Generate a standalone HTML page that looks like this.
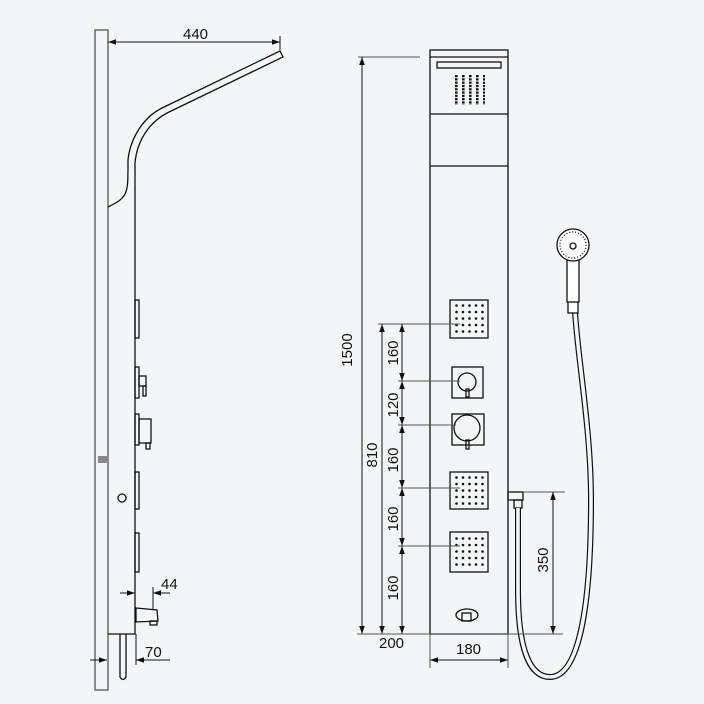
<!DOCTYPE html>
<html><head><meta charset="utf-8"><style>
html,body{margin:0;padding:0;background:#f4f5f7;}
svg{display:block;}
text{font-family:"Liberation Sans",sans-serif;font-size:15px;fill:#111;}
</style></head><body>
<svg width="704" height="704" viewBox="0 0 704 704" xmlns="http://www.w3.org/2000/svg">
<defs>
<marker id="a" viewBox="0 0 10 10" refX="10" refY="5" markerWidth="8" markerHeight="8" orient="auto-start-reverse"><path d="M0,1.5 L10,5 L0,8.5z" fill="#111"/></marker>
<pattern id="dots" x="455" y="304" width="6.5" height="6.5" patternUnits="userSpaceOnUse"><circle cx="1.5" cy="1.5" r="1.3" fill="#111"/></pattern>
<pattern id="dots2" x="455" y="476" width="6.5" height="6.5" patternUnits="userSpaceOnUse"><circle cx="1.5" cy="1.5" r="1.3" fill="#111"/></pattern>
<pattern id="dots3" x="455" y="537" width="6.5" height="6.5" patternUnits="userSpaceOnUse"><circle cx="1.5" cy="1.5" r="1.3" fill="#111"/></pattern>
<pattern id="tdots" x="455" y="75" width="7" height="3.3" patternUnits="userSpaceOnUse"><rect x="0" y="0" width="2.6" height="2.2" fill="#111"/></pattern>
</defs>
<rect width="704" height="704" fill="#f4f5f7"/>
<g fill="none" stroke="#111" stroke-width="1.3">
<!-- LEFT VIEW -->
<rect x="95" y="30" width="13" height="660" stroke="#555"/>
<path d="M108,207 C116,203 122,200 125,194 C128,188 128,182 128,160 C130,140 142,118 162,108 L280,51 L283,57 L167,113 C150,122 137,140 135,163 L135,634 L108,634"/>
<path d="M120,634 L120,677 Q123,682 126,677 L126,634"/>
<rect x="135" y="300" width="4" height="38"/>
<rect x="135" y="367" width="4" height="31"/>
<rect x="139" y="376" width="7" height="10"/>
<rect x="143" y="386" width="3" height="10"/>
<rect x="135" y="414" width="4" height="31"/>
<rect x="139" y="419" width="12" height="24"/>
<rect x="146" y="443" width="4" height="6"/>
<rect x="135" y="472" width="4" height="37"/>
<rect x="135" y="533" width="4" height="39"/>
<circle cx="122" cy="498" r="4"/>
<path d="M136,608 L157,610 L158,621 L136,622z"/>
<rect x="150" y="621" width="7" height="4"/>
</g>
<rect x="98" y="456" width="9" height="7" fill="#888"/>
<g stroke="#111" stroke-width="1" fill="none">
<line x1="108" y1="42" x2="280" y2="42" marker-start="url(#a)" marker-end="url(#a)"/>
<line x1="280" y1="36" x2="280" y2="50"/>
<line x1="120" y1="593" x2="135" y2="593" marker-end="url(#a)"/>
<line x1="170" y1="593" x2="153" y2="593" marker-end="url(#a)"/>
<line x1="153" y1="587" x2="153" y2="610"/>
<line x1="90" y1="660" x2="107" y2="660" marker-end="url(#a)"/>
<line x1="170" y1="660" x2="136" y2="660" marker-end="url(#a)"/>
<line x1="136" y1="634" x2="136" y2="665"/>
</g>
<text x="183" y="39">440</text>
<text x="161" y="589">44</text>
<text x="145" y="657">70</text>

<!-- FRONT VIEW -->
<g fill="none" stroke="#111" stroke-width="1.3">
<rect x="430" y="50" width="78" height="584"/>
<line x1="430" y1="57" x2="508" y2="57"/>
<line x1="430" y1="114" x2="508" y2="114"/>
<line x1="430" y1="166" x2="508" y2="166"/>
<rect x="437" y="62" width="64" height="6"/>
<rect x="450" y="300" width="38" height="38"/>
<rect x="452" y="367" width="31" height="31"/>
<circle cx="467" cy="382" r="9"/>
<rect x="466" y="389" width="3" height="8"/>
<rect x="452" y="414" width="32" height="31"/>
<circle cx="467" cy="428" r="13"/>
<rect x="466" y="440" width="3" height="9"/>
<rect x="450" y="472" width="38" height="37"/>
<rect x="450" y="532" width="38" height="40"/>
<ellipse cx="467" cy="615" rx="11" ry="6"/>
<rect x="462" y="613" width="9" height="8"/>
<rect x="508" y="492" width="15" height="8"/>
<rect x="514" y="500" width="8" height="8"/>
</g>
<rect x="455" y="75" width="30" height="30" fill="url(#tdots)"/>
<rect x="455" y="304" width="32" height="32" fill="url(#dots)"/>
<rect x="455" y="476" width="32" height="32" fill="url(#dots2)"/>
<rect x="455" y="537" width="32" height="32" fill="url(#dots3)"/>
<!-- hose -->
<path d="M518,508 L518,590 C518,650 530,677 550,677 C576,677 591,620 591,500 C591,430 578,360 575,312" fill="none" stroke="#111" stroke-width="6"/>
<path d="M518,508 L518,590 C518,650 530,677 550,677 C576,677 591,620 591,500 C591,430 578,360 575,312" fill="none" stroke="#f4f5f7" stroke-width="3.6"/>
<!-- shower head -->
<g fill="#fff" stroke="#111" stroke-width="1.3">
<rect x="568" y="301" width="10" height="12"/>
<rect x="567" y="258" width="12" height="44"/>
<circle cx="573" cy="245" r="16"/>
<circle cx="573" cy="245" r="13" stroke-dasharray="1 2"/>
<circle cx="573" cy="246" r="3"/>
</g>
<!-- front dims -->
<g stroke="#111" stroke-width="1" fill="none">
<line x1="358" y1="57" x2="420" y2="57" stroke="#555"/>
<line x1="362" y1="57" x2="362" y2="634" marker-start="url(#a)" marker-end="url(#a)"/>
<line x1="378" y1="324" x2="460" y2="324" stroke="#555"/>
<line x1="382" y1="324" x2="382" y2="634" marker-start="url(#a)" marker-end="url(#a)"/>
<line x1="402" y1="324" x2="402" y2="381" marker-start="url(#a)" marker-end="url(#a)"/>
<line x1="402" y1="381" x2="402" y2="425" marker-start="url(#a)" marker-end="url(#a)"/>
<line x1="402" y1="425" x2="402" y2="488" marker-start="url(#a)" marker-end="url(#a)"/>
<line x1="402" y1="488" x2="402" y2="546" marker-start="url(#a)" marker-end="url(#a)"/>
<line x1="402" y1="546" x2="402" y2="634" marker-start="url(#a)" marker-end="url(#a)"/>
<line x1="398" y1="381" x2="460" y2="381" stroke="#555"/>
<line x1="398" y1="425" x2="456" y2="425" stroke="#555"/>
<line x1="398" y1="488" x2="460" y2="488" stroke="#555"/>
<line x1="398" y1="546" x2="460" y2="546" stroke="#555"/>
<line x1="357" y1="634" x2="563" y2="634" stroke="#555"/>
<line x1="430" y1="634" x2="430" y2="668" stroke="#555"/>
<line x1="508" y1="634" x2="508" y2="668" stroke="#555"/>
<line x1="430" y1="660" x2="508" y2="660" marker-start="url(#a)" marker-end="url(#a)"/>
<line x1="523" y1="492" x2="565" y2="492" stroke="#555"/>
<line x1="553" y1="492" x2="553" y2="634" marker-start="url(#a)" marker-end="url(#a)"/>
</g>
<text transform="translate(352,350) rotate(-90)" text-anchor="middle">1500</text>
<text transform="translate(377,455) rotate(-90)" text-anchor="middle">810</text>
<text transform="translate(398,353) rotate(-90)" text-anchor="middle">160</text>
<text transform="translate(398,405) rotate(-90)" text-anchor="middle">120</text>
<text transform="translate(398,460) rotate(-90)" text-anchor="middle">160</text>
<text transform="translate(398,519) rotate(-90)" text-anchor="middle">160</text>
<text transform="translate(398,588) rotate(-90)" text-anchor="middle">160</text>
<text transform="translate(548,560) rotate(-90)" text-anchor="middle">350</text>
<text x="379" y="648">200</text>
<text x="456" y="654">180</text>
</svg>
</body></html>
